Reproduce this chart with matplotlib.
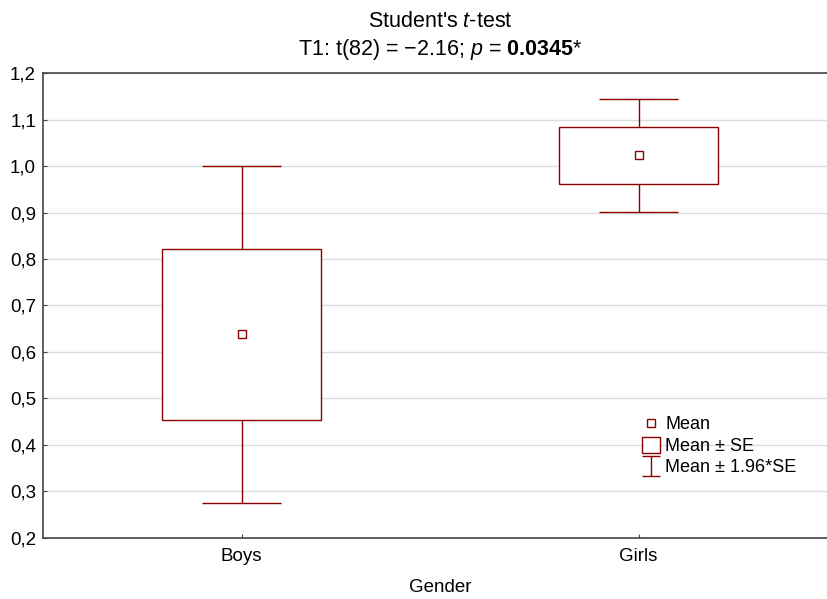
import matplotlib
matplotlib.use("Agg")
import matplotlib.pyplot as plt
from matplotlib.patches import Rectangle
from matplotlib.lines import Line2D
from matplotlib.path import Path
from matplotlib.ticker import FuncFormatter, MultipleLocator

plt.rcParams['font.family'] = ['Liberation Sans', 'DejaVu Sans']
plt.rcParams['mathtext.fontset'] = 'custom'
plt.rcParams['mathtext.rm'] = 'Liberation Sans'
plt.rcParams['mathtext.it'] = 'Liberation Sans:italic'
plt.rcParams['mathtext.bf'] = 'Liberation Sans:bold'

# values
groups = ["Boys", "Girls"]
means = [0.638, 1.024]
se_low = [0.454, 0.962]
se_high = [0.822, 1.085]
ci_low = [0.276, 0.902]
ci_high = [1.000, 1.144]

col = '#8b0000'
positions = range(len(groups))

fig = plt.figure(figsize=(8.28, 5.99), dpi=100)
ax = fig.add_axes([0.052, 0.102, 0.959, 0.776])

for x, m, lo, hi, clo, chi in zip(positions, means, se_low, se_high, ci_low, ci_high):
    # Mean +- SE box
    ax.add_patch(Rectangle((x - 0.2, lo), 0.4, hi - lo, facecolor='white',
                           edgecolor=col, lw=1.0, zorder=3))
    # Mean +- 1.96*SE whiskers
    ax.vlines(x, hi, chi, color=col, lw=1.0, zorder=3)
    ax.vlines(x, clo, lo, color=col, lw=1.0, zorder=3)
    ax.hlines([clo, chi], x - 0.1, x + 0.1, color=col, lw=1.0, zorder=3)
    ax.plot(x, m, marker='s', ms=5.5, mfc='white', mec=col, mew=1.0, zorder=4)

ax.set_xlim(-0.5, 1.5)
ax.set_ylim(0.2, 1.2)
ax.set_xticks(list(positions))
ax.set_xticklabels(groups)
ax.yaxis.set_major_locator(MultipleLocator(0.1))
ax.yaxis.set_major_formatter(FuncFormatter(lambda v, p: f"{v:.1f}".replace('.', ',')))
ax.grid(axis='y', color='#dddddd', lw=1.0, zorder=0)
ax.set_axisbelow(True)

ax.spines['right'].set_visible(False)
for s in ['left', 'top', 'bottom']:
    ax.spines[s].set_color('#444444')
    ax.spines[s].set_linewidth(1.2)
ax.tick_params(direction='in', length=3, width=0.8, color='#444444', labelsize=13.5)
ax.tick_params(axis='x', pad=7)
ax.tick_params(axis='y', pad=5)

ax.set_xlabel("Gender", fontsize=13.5, labelpad=10)
ax.set_title("Student's $\\mathit{t}$-test\nT1: t(82) = \u22122.16; $\\mathit{p}$ = $\\mathbf{0.0345}$*",
             fontsize=15.5, pad=13, linespacing=1.3)

# legend
ibar = Path([(-0.45, -0.5), (0.45, -0.5), (0, -0.5), (0, 0.5), (-0.45, 0.5), (0.45, 0.5)],
            [Path.MOVETO, Path.LINETO, Path.MOVETO, Path.LINETO, Path.MOVETO, Path.LINETO])
rect = Path([(-0.5, -0.45), (0.5, -0.45), (0.5, 0.45), (-0.5, 0.45), (-0.5, -0.45)],
            [Path.MOVETO, Path.LINETO, Path.LINETO, Path.LINETO, Path.CLOSEPOLY])
handles = [
    Line2D([], [], ls='', marker='s', ms=6, mfc='white', mec=col, mew=1.0),
    Line2D([], [], ls='', marker=rect, ms=13, mfc='white', mec=col, mew=1.0),
    Line2D([], [], ls='', marker=ibar, ms=15, mfc='none', mec=col, mew=1.0),
]
ax.legend(handles, ["Mean", "Mean \u00b1 SE", "Mean \u00b1 1.96*SE"], loc='lower left',
          bbox_to_anchor=(0.744, 0.113), frameon=False, fontsize=13,
          handlelength=0.9, handletextpad=0.35, labelspacing=0.25, borderpad=0)

fig.savefig("out.png", dpi=100)
